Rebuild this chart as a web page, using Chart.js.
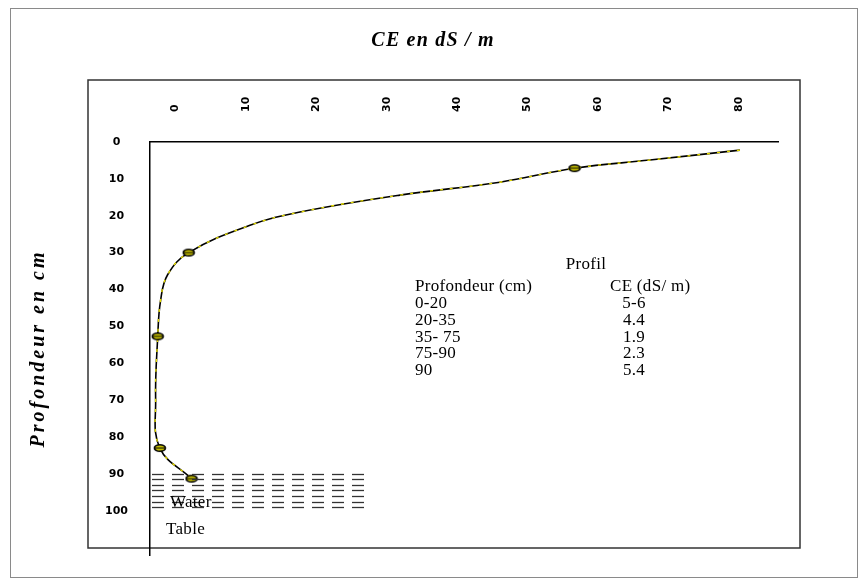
<!DOCTYPE html>
<html>
<head>
<meta charset="utf-8">
<script src="https://cdn.jsdelivr.net/npm/chart.js@4"></script>
<style>
html,body{margin:0;padding:0;background:#fff;}
#wrap{position:relative;width:868px;height:588px;}
canvas{display:block;}
</style>
</head>
<body>
<div id="wrap"><canvas id="c" width="868" height="588"></canvas></div>
<script>
// ---- data ----
const chartTitle = 'CE en dS / m';
const yTitle = 'Profondeur en cm';
const ceTicks = [0, 10, 20, 30, 40, 50, 60, 70, 80];
const depthTicks = [0, 10, 20, 30, 40, 50, 60, 70, 80, 90, 100];

// fitted profile curve (CE, depth)
const curveCE    = [80.3, 67.5, 56.8, 46.2, 32.0, 17.8, 10.7, 2.0, -1.0, -2.0, -2.4, -2.7, -2.1, 2.4];
const curveDepth = [2.2,  4.9,  7.1,  10.9, 14.4, 19.0, 22.6, 30.0, 36.0, 43.0, 52.7, 70.0, 83.0, 91.3];

// measured points
const markerCE    = [56.8, 2.0, -2.4, -2.1, 2.4];
const markerDepth = [7.1, 30.0, 52.7, 83.0, 91.3];

// inset table
const tableTitle = 'Profil';
const tableHeaders = ['Profondeur (cm)', 'CE (dS/ m)'];
const profilDepths = ['0-20', '20-35', '35- 75', '75-90', '90'];
const profilCE = ['5-6', '4.4', '1.9', '2.3', '5.4'];

// water table band (depth range, CE range)
const waterDepth = [90, 99];
const waterCE = [-3.5, 28.0];
const waterLabel = ['Water', 'Table'];

const toXY = (xs, ys) => xs.map((x, i) => ({x: x, y: ys[i]}));

// ellipse marker image
const mk = document.createElement('canvas');
mk.width = 14; mk.height = 10;
(function(){
  const g = mk.getContext('2d');
  g.beginPath();
  g.ellipse(7, 5, 5.5, 3.3, 0, 0, Math.PI * 2);
  g.fillStyle = '#c9c200';
  g.fill();
  g.lineWidth = 1.6;
  g.strokeStyle = '#000';
  g.stroke();
  g.beginPath();
  g.moveTo(2, 5); g.lineTo(12, 5);
  g.lineWidth = 1; g.stroke();
})();

const decor = {
  id: 'decor',
  beforeDraw(chart) {
    const ctx = chart.ctx;
    ctx.save();
    ctx.fillStyle = '#fff';
    ctx.fillRect(0, 0, chart.width, chart.height);
    ctx.strokeStyle = '#8a8a8a';
    ctx.lineWidth = 1;
    ctx.strokeRect(10.5, 8.5, 847, 569);
    ctx.strokeStyle = '#333';
    ctx.lineWidth = 1.5;
    ctx.strokeRect(88, 80, 712, 468);

    // titles
    ctx.fillStyle = '#000';
    ctx.textBaseline = 'middle';
    ctx.textAlign = 'center';
    ctx.font = 'italic bold 20px "Liberation Serif"';
    ctx.letterSpacing = '1.2px';
    ctx.fillText(chartTitle, 433, 41);
    const ys = chart.scales.y;
    ctx.translate(39, (ys.top + ys.bottom) / 2);
    ctx.rotate(-Math.PI / 2);
    ctx.letterSpacing = '3px';
    ctx.fillText(yTitle, 0, 0);
    ctx.restore();
  },
  afterDatasetsDraw(chart) {
    const ctx = chart.ctx;
    const xs = chart.scales.x, ys = chart.scales.y;
    ctx.save();
    // water table dashes
    const x0 = xs.getPixelForValue(waterCE[0]);
    const x1 = xs.getPixelForValue(waterCE[1]);
    const y0 = ys.getPixelForValue(waterDepth[0]);
    const y1 = ys.getPixelForValue(waterDepth[1]);
    ctx.strokeStyle = '#333';
    ctx.lineWidth = 1.3;
    for (let y = y0; y <= y1 + 0.1; y += (y1 - y0) / 6) {
      for (let x = x0 + 2; x + 10 <= x1; x += 20) {
        ctx.beginPath();
        ctx.moveTo(x, Math.round(y) + 0.5);
        ctx.lineTo(x + 12, Math.round(y) + 0.5);
        ctx.stroke();
      }
    }
    ctx.fillStyle = '#000';
    ctx.font = '17px "Liberation Serif"';
    ctx.letterSpacing = '0.3px';
    ctx.textBaseline = 'middle';
    ctx.textAlign = 'left';
    ctx.fillText(waterLabel[0], 170, 503);
    ctx.fillText(waterLabel[1], 166, 530);

    // inset table
    ctx.textAlign = 'center';
    ctx.fillText(tableTitle, 586, 265);
    ctx.textAlign = 'left';
    ctx.fillText(tableHeaders[0], 415, 287);
    ctx.fillText(tableHeaders[1], 610, 287);
    profilDepths.forEach((d, i) => {
      const y = 304 + i * 16.6;
      ctx.textAlign = 'left';
      ctx.fillText(d, 415, y);
      ctx.textAlign = 'center';
      ctx.fillText(profilCE[i], 634, y);
    });
    ctx.restore();
  }
};

new Chart(document.getElementById('c'), {
  type: 'scatter',
  data: {
    datasets: [
      {
        label: 'curve',
        data: toXY(curveCE, curveDepth),
        showLine: true,
        borderColor: '#000',
        borderWidth: 1.6,
        pointRadius: 0,
        tension: 0.4,
        order: 3
      },
      {
        label: 'curve-yellow',
        data: toXY(curveCE, curveDepth),
        showLine: true,
        borderColor: '#e6dc00',
        borderWidth: 1.4,
        borderDash: [3, 7],
        pointRadius: 0,
        tension: 0.4,
        order: 2
      },
      {
        label: 'points',
        data: toXY(markerCE, markerDepth),
        showLine: false,
        pointStyle: mk,
        pointRadius: 5,
        order: 1
      }
    ]
  },
  options: {
    responsive: false,
    animation: false,
    layout: { padding: { left: 20, right: 90, top: 80, bottom: 33 } },
    plugins: {
      legend: { display: false },
      tooltip: { enabled: false },
      title: { display: false }
    },
    scales: {
      x: {
        type: 'linear',
        position: 'top',
        min: -3.5,
        max: 85.7,
        afterBuildTicks: (s) => { s.ticks = ceTicks.map(v => ({value: v})); },
        afterFit: (s) => { s.height = 62; },
        grid: { display: false, drawTicks: false },
        border: { display: true, color: '#000', width: 1.5 },
        ticks: {
          color: '#000',
          minRotation: 90,
          maxRotation: 90,
          padding: 30,
          labelOffset: 14,
          font: { family: '"DejaVu Sans"', size: 11, weight: 'bold' }
        }
      },
      y: {
        type: 'linear',
        reverse: true,
        min: 0,
        max: 112,
        afterBuildTicks: (s) => { s.ticks = depthTicks.map(v => ({value: v})); },
        afterFit: (s) => { s.width = 130; },
        grid: { display: false, drawTicks: false },
        border: { display: true, color: '#000', width: 1.5 },
        ticks: {
          color: '#000',
          crossAlign: 'center',
          padding: 22,
          font: { family: '"DejaVu Sans"', size: 11, weight: 'bold' }
        }
      }
    }
  },
  plugins: [decor]
});
</script>
</body>
</html>
